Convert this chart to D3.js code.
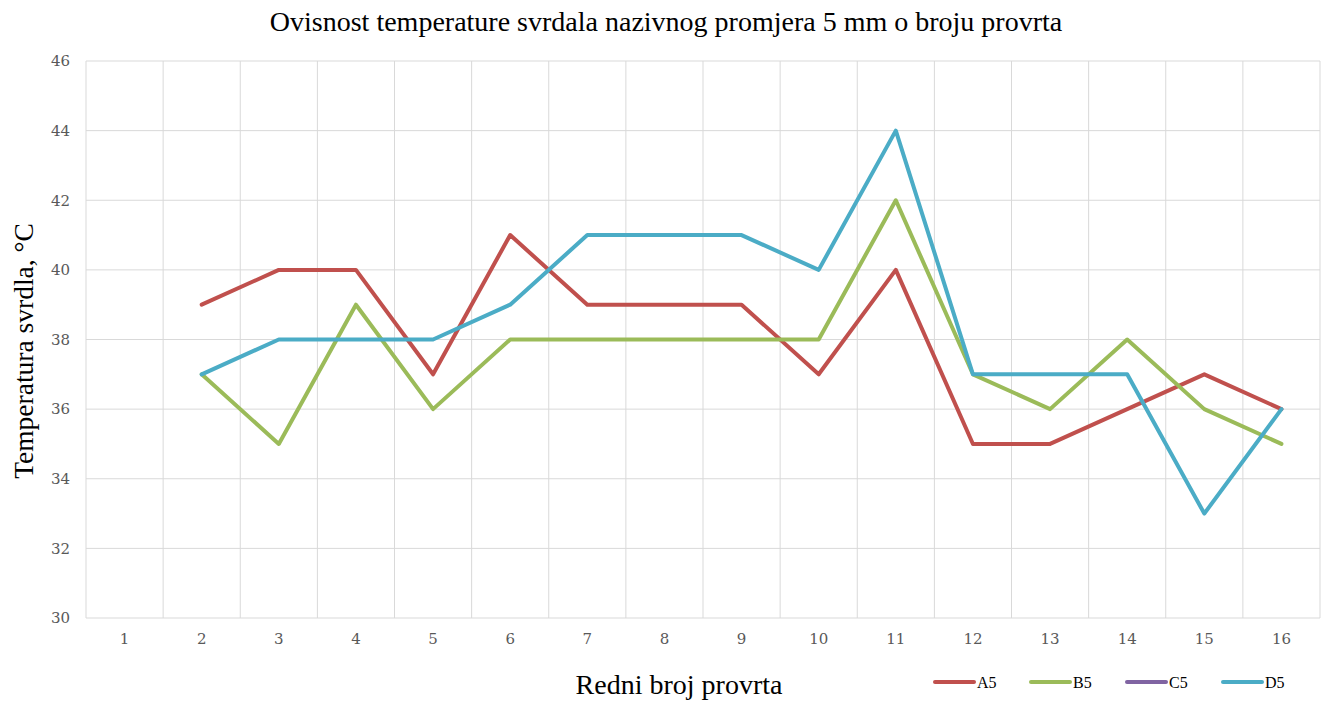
<!DOCTYPE html>
<html>
<head>
<meta charset="utf-8">
<script src="https://cdn.jsdelivr.net/npm/d3@7/dist/d3.min.js"></script>
<style>
  html, body { margin: 0; padding: 0; background: #fff; }
  svg { display: block; }
</style>
</head>
<body>
<svg id="chart" width="1327" height="701"></svg>
<script>
// Hole numbers (x categories)
const holes = ["1","2","3","4","5","6","7","8","9","10","11","12","13","14","15","16"];
const yTicks = [30, 32, 34, 36, 38, 40, 42, 44, 46];

// Drill temperature per hole, °C (null = not measured)
const seriesNames = ["A5", "B5", "C5", "D5"];
const valuesA5 = [null, 39, 40, 40, 37, 41, 39, 39, 39, 37, 40, 35, 35, 36, 37, 36];
const valuesB5 = [null, 37, 35, 39, 36, 38, 38, 38, 38, 38, 42, 37, 36, 38, 36, 35];
const valuesC5 = [null, null, null, null, null, null, null, null, null, null, null, null, null, null, null, null];
const valuesD5 = [null, 37, 38, 38, 38, 39, 41, 41, 41, 40, 44, 37, 37, 37, 33, 36];
const colors = ["#C0504D", "#9BBB59", "#8064A2", "#4BACC6"];

const series = [valuesA5, valuesB5, valuesC5, valuesD5].map((v, i) => ({
  name: seriesNames[i], color: colors[i], values: v
}));

const svg = d3.select("#chart");
const margin = { left: 86, right: 7, top: 61, bottom: 83 };
const W = 1327, H = 701;
const x0 = margin.left, x1 = W - margin.right;
const y0 = H - margin.bottom, y1 = margin.top;

const x = d3.scaleBand().domain(holes).range([x0, x1]);
const y = d3.scaleLinear().domain([30, 46]).range([y0, y1]);

const serif = "'Liberation Serif', 'Times New Roman', serif";
const tickFont = "'DejaVu Serif', serif";

// Horizontal gridlines
svg.append("g").selectAll("line").data(yTicks).join("line")
  .attr("x1", x0).attr("x2", x1)
  .attr("y1", d => y(d)).attr("y2", d => y(d))
  .attr("stroke", "#d9d9d9").attr("stroke-width", 1);

// Vertical gridlines at category boundaries
const bounds = holes.map(h => x(h)).concat([x1]);
svg.append("g").selectAll("line").data(bounds).join("line")
  .attr("x1", d => d).attr("x2", d => d)
  .attr("y1", y1).attr("y2", y0)
  .attr("stroke", "#d9d9d9").attr("stroke-width", 1);

// Y axis labels
const yAxis = d3.axisLeft(y).tickValues(yTicks).tickSize(0).tickPadding(16);
const gy = svg.append("g").attr("transform", `translate(${x0},0)`).call(yAxis);
gy.select(".domain").remove();
gy.selectAll("text").attr("font-family", tickFont).attr("font-size", 15).attr("fill", "#595959");

// X axis labels
const xAxis = d3.axisBottom(x).tickSize(0).tickPadding(15);
const gx = svg.append("g").attr("transform", `translate(0,${y0})`).call(xAxis);
gx.select(".domain").remove();
gx.selectAll("text").attr("font-family", tickFont).attr("font-size", 15).attr("fill", "#595959");

// Series lines
const line = d3.line()
  .defined(d => d.v != null)
  .x(d => x(d.h) + x.bandwidth() / 2)
  .y(d => y(d.v));

svg.append("g").selectAll("path").data(series).join("path")
  .attr("d", s => line(s.values.map((v, i) => ({ h: holes[i], v }))))
  .attr("fill", "none")
  .attr("stroke", s => s.color)
  .attr("stroke-width", 4)
  .attr("stroke-linejoin", "round")
  .attr("stroke-linecap", "round");

// Title
svg.append("text")
  .attr("x", 666).attr("y", 31)
  .attr("text-anchor", "middle")
  .attr("font-family", serif).attr("font-size", 28).attr("fill", "#000")
  .text("Ovisnost temperature svrdala nazivnog promjera 5 mm o broju provrta");

// Axis titles
svg.append("text")
  .attr("x", 679).attr("y", 694)
  .attr("text-anchor", "middle")
  .attr("font-family", serif).attr("font-size", 28).attr("fill", "#000")
  .text("Redni broj provrta");

svg.append("text")
  .attr("transform", "translate(33,351) rotate(-90)")
  .attr("text-anchor", "middle")
  .attr("font-family", serif).attr("font-size", 27.5).attr("fill", "#000")
  .text("Temperatura svrdla, °C");

// Legend
const legend = svg.append("g").selectAll("g").data(series).join("g")
  .attr("transform", (d, i) => `translate(${935 + i * 96},682)`);
legend.append("line")
  .attr("x1", 0).attr("x2", 39).attr("y1", 0).attr("y2", 0)
  .attr("stroke", d => d.color).attr("stroke-width", 4).attr("stroke-linecap", "round");
legend.append("text")
  .attr("x", 42).attr("y", 6)
  .attr("font-family", serif).attr("font-size", 16).attr("fill", "#000")
  .text(d => d.name);
</script>
</body>
</html>
